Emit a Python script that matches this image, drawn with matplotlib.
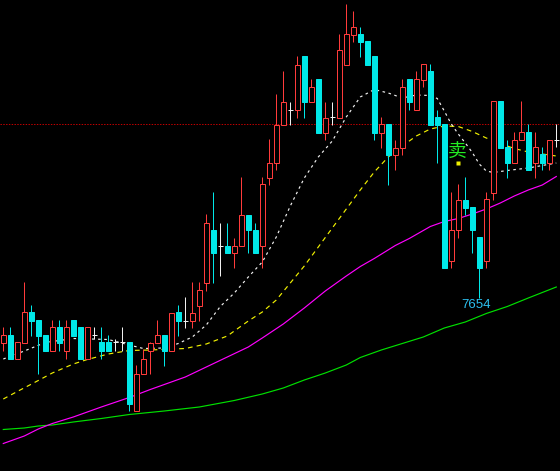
import matplotlib
matplotlib.use("Agg")
import matplotlib.pyplot as plt
import numpy as np

# ---- candle data (price units) ----
opens = [7564, 7579, 7531, 7564, 7625, 7609, 7579, 7548, 7595, 7548,
         7609, 7595, 7531, 7579, 7565, 7565, 7565, 7565, 7565, 7428,
         7502, 7548, 7564, 7579, 7548, 7625, 7608, 7608, 7638, 7684,
         7790, 7758, 7758, 7744, 7758, 7820, 7790, 7758, 7894, 7924,
         8000, 8030, 8030, 8137, 8046, 8091, 7984, 8015, 8014, 8120,
         8180, 8181, 8167, 8137, 7984, 8001, 7939, 7953, 8091, 8029,
         8090, 8107, 8015, 8001, 7728, 7789, 7850, 7835, 7775, 7728,
         7864, 8047, 7955, 7924, 7969, 7986, 7924, 7941, 7924, 7970]
closes = [7579, 7531, 7565, 7625, 7607, 7578, 7547, 7595, 7564, 7595,
          7578, 7531, 7595, 7579, 7548, 7548, 7565, 7565, 7441, 7502,
          7532, 7564, 7579, 7548, 7624, 7608, 7608, 7624, 7669, 7804,
          7744, 7758, 7744, 7758, 7820, 7789, 7744, 7881, 7924, 8000,
          8046, 8030, 8120, 8046, 8076, 7984, 8014, 8015, 8150, 8181,
          8196, 8166, 8120, 7984, 8001, 7939, 7954, 8076, 8046, 8091,
          8121, 7999, 7999, 7714, 7790, 7850, 7834, 7790, 7714, 7851,
          8047, 7954, 7924, 7970, 7986, 7909, 7955, 7924, 7970, 7970]
highs = [7596, 7596, 7565, 7685, 7639, 7609, 7579, 7609, 7609, 7609,
         7609, 7595, 7595, 7595, 7595, 7579, 7572, 7595, 7565, 7519,
         7551, 7565, 7609, 7579, 7624, 7639, 7655, 7685, 7685, 7821,
         7865, 7804, 7804, 7774, 7895, 7820, 7804, 7895, 7971, 8061,
         8107, 8046, 8137, 8137, 8091, 8091, 8046, 8046, 8181, 8241,
         8227, 8196, 8167, 8137, 8015, 8001, 7969, 8091, 8091, 8107,
         8121, 8121, 8030, 8001, 7865, 7881, 7895, 7835, 7775, 7865,
         8047, 8047, 7970, 7986, 8047, 8001, 7986, 7955, 7970, 8001]
lows = [7548, 7531, 7531, 7564, 7578, 7501, 7547, 7548, 7548, 7532,
        7578, 7531, 7531, 7572, 7531, 7548, 7548, 7548, 7428, 7428,
        7502, 7502, 7564, 7518, 7548, 7578, 7594, 7594, 7608, 7668,
        7684, 7698, 7744, 7714, 7758, 7744, 7744, 7714, 7880, 7909,
        8000, 8000, 8014, 8014, 8046, 7984, 7969, 8000, 8014, 8120,
        8166, 8136, 8120, 7970, 7953, 7879, 7909, 7939, 8029, 8029,
        8076, 7999, 7924, 7714, 7714, 7774, 7819, 7743, 7654, 7714,
        7849, 7954, 7894, 7924, 7969, 7909, 7894, 7909, 7909, 7955]

# ---- moving averages (candle index, price) ----
ma_white_idx = [0, 3, 6, 10, 15, 18, 20, 23, 25, 27, 29, 31, 33, 35, 37, 39, 41, 43,
                45, 47, 49, 51, 53, 55, 57, 59, 61, 62, 63, 64, 65, 66, 67, 68, 69,
                70, 72, 75, 79]
ma_white = [7531, 7547, 7564, 7572, 7570, 7559, 7552, 7553, 7562, 7575, 7599, 7636,
            7663, 7695, 7725, 7775, 7837, 7893, 7935, 7967, 8015, 8055, 8070, 8063,
            8053, 8059, 8058, 8052, 8027, 8001, 7981, 7963, 7944, 7921, 7907, 7904,
            7908, 7913, 7923]
ma_yellow_idx = [0, 2, 5, 7, 10, 12, 15, 18, 21, 26, 29, 32, 35, 37, 39, 41, 43, 45,
                 47, 49, 51, 53, 55, 57, 59, 61, 63, 65, 67, 69, 71, 73, 75, 77, 79]
ma_yellow = [7451, 7466, 7488, 7503, 7521, 7530, 7541, 7548, 7549, 7552, 7561, 7577,
             7607, 7625, 7649, 7683, 7717, 7755, 7793, 7831, 7869, 7905, 7935, 7957,
             7977, 7991, 7997, 7996, 7986, 7973, 7962, 7952, 7945, 7941, 7937]
ma_magenta_idx = [0, 3, 5, 7, 10, 14, 18, 21, 26, 29, 32, 35, 37, 40, 43, 46, 49, 51,
                  53, 56, 58, 61, 63, 65, 67, 69, 71, 73, 75, 77, 79]
ma_magenta = [7362, 7377, 7391, 7402, 7415, 7435, 7454, 7470, 7495, 7515, 7535, 7555,
              7573, 7601, 7633, 7667, 7697, 7716, 7732, 7758, 7772, 7796, 7806, 7812,
              7821, 7831, 7843, 7857, 7869, 7879, 7896]
ma_green_idx = [0, 3, 5, 7, 10, 14, 18, 23, 28, 33, 37, 40, 43, 46, 49, 51, 54, 57,
                60, 63, 66, 69, 72, 75, 77, 79]
ma_green = [7390, 7393, 7397, 7399, 7405, 7412, 7420, 7427, 7435, 7448, 7461, 7473,
            7489, 7503, 7519, 7534, 7549, 7562, 7575, 7593, 7605, 7622, 7636, 7653,
            7664, 7675]

ref_level = 8001
low_label = "7654"
low_index = 68
sell_label = "卖"
sell_index = 65
sell_price = 7947
sell_dot = 7923

UP = "#ff3b3b"
DOWN = "#00e8e8"
FLAT = "#f0f0f0"

fig = plt.figure(figsize=(5.6, 4.71), dpi=100, facecolor="black")
ax = fig.add_axes([0, 0, 1, 1], facecolor="black")
ax.set_axis_off()

n = len(opens)
x = np.arange(n)
o = np.array(opens); c = np.array(closes); h = np.array(highs); l = np.array(lows)

ax.axhline(ref_level, color="#c00000", lw=0.72, linestyle=(0, (1.4, 1.4)), zorder=1)

# moving averages
kw = dict(lw=0.85, zorder=2)
ax.plot(ma_green_idx, ma_green, color="#00e000", **kw)
ax.plot(ma_magenta_idx, ma_magenta, color="#ff00ff", **kw)
ax.plot(ma_yellow_idx, ma_yellow, color="#f0f000", linestyle=(0, (4, 3.5)), **kw)
ax.plot(ma_white_idx, ma_white, color="#f0f0f0", linestyle=(0, (2.2, 3)), **kw)

bw = 0.66
WL = 0.72
for i in range(n):
    top = max(o[i], c[i]); bot = min(o[i], c[i])
    if c[i] > o[i]:
        ax.vlines(x[i], top, h[i], color=UP, lw=WL, zorder=3)
        ax.vlines(x[i], l[i], bot, color=UP, lw=WL, zorder=3)
        ax.bar(x[i], top - bot, bottom=bot, width=bw, facecolor="black",
               edgecolor=UP, lw=WL, zorder=4)
    elif c[i] < o[i]:
        ax.vlines(x[i], l[i], h[i], color=DOWN, lw=WL, zorder=3)
        ax.bar(x[i], top - bot, bottom=bot, width=bw, facecolor=DOWN,
               edgecolor=DOWN, lw=WL, zorder=4)
    else:
        ax.vlines(x[i], l[i], h[i], color=FLAT, lw=WL, zorder=3)
        ax.hlines(o[i], x[i] - bw / 2, x[i] + bw / 2, color=FLAT, lw=WL, zorder=4)

ax.text(low_index - 0.4, lows[low_index] - 4, low_label, color="#2cc0f0",
        fontsize=9.5, family="Liberation Sans", ha="center", va="top", zorder=5)
ax.text(sell_index - 0.2, sell_price, sell_label, color="#22ee22", fontsize=13.5,
        family=["Noto Sans CJK SC", "DejaVu Sans"], ha="center", va="center", zorder=5)
ax.plot([sell_index], [sell_dot], marker="s", ms=2.2, color="#f0f000", mec="none", zorder=5)

ax.set_xlim(-0.47, 79.53)
ax.set_ylim(7307, 8249)

fig.savefig("out.png", dpi=100, facecolor="black")
